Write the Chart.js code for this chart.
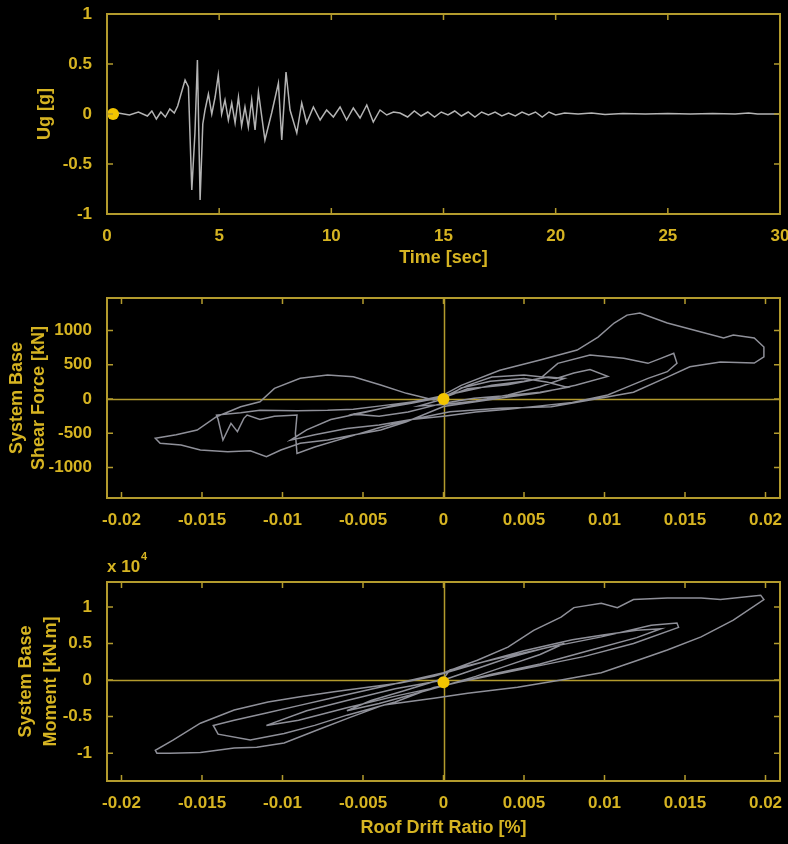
<!DOCTYPE html>
<html>
<head>
<meta charset="utf-8">
<script src="https://cdn.jsdelivr.net/npm/chart.js@4.4.1/dist/chart.umd.min.js"></script>
<style>
  html, body { margin: 0; padding: 0; background: #000; }
  #wrap { position: relative; width: 788px; height: 844px; overflow: hidden; background: #000; }
  .panel { position: absolute; left: 0; width: 788px; }
</style>
</head>
<body>
<div id="wrap">
  <div class="panel" style="top:0;height:280px"><canvas id="accChart"></canvas></div>
  <div class="panel" style="top:280px;height:260px"><canvas id="shearChart"></canvas></div>
  <div class="panel" style="top:540px;height:304px"><canvas id="momentChart"></canvas></div>
</div>
<script>
// ground motion record (time in sec, acceleration in g)
const timeSec = [0, 0.5, 1.0, 1.4, 1.8, 2.0, 2.2, 2.4, 2.6, 2.8, 3.0, 3.15, 3.3, 3.48, 3.63, 3.78, 3.92, 4.03, 4.15, 4.27,
  4.37, 4.52, 4.67, 4.82, 4.96, 5.11, 5.26, 5.41, 5.56, 5.71, 5.86, 6.0, 6.15, 6.3, 6.45, 6.6, 6.75, 7.04, 7.34, 7.64,
  7.79, 7.98, 8.16, 8.46, 8.68, 8.9, 9.2, 9.5, 9.79, 10.09, 10.39, 10.68, 10.98, 11.28, 11.58, 11.87, 12.17, 12.47, 12.77, 13.06,
  13.4, 13.7, 14.0, 14.3, 14.6, 14.9, 15.2, 15.5, 15.8, 16.1, 16.4, 16.7, 17.0, 17.3, 17.6, 17.9, 18.2, 18.5, 18.8, 19.1,
  19.4, 19.7, 20.0, 20.4, 21.0, 21.6, 22.2, 23.0, 24.0, 25.0, 26.0, 27.0, 28.0, 28.6, 29.0, 30.0];
const groundAcc = [0, 0.01, -0.01, 0.02, -0.02, 0.03, -0.05, 0.02, -0.03, 0.05, 0.01, 0.08, 0.20, 0.34, 0.27, -0.76, -0.19, 0.54, -0.86, -0.10,
  0.04, 0.20, 0.0, 0.17, 0.39, 0.0, 0.14, -0.06, 0.11, -0.09, 0.17, -0.12, 0.07, -0.13, 0.14, -0.16, 0.22, -0.26, 0.01, 0.31,
  -0.26, 0.42, 0.04, -0.19, 0.11, -0.09, 0.07, -0.06, 0.04, -0.03, 0.07, -0.06, 0.06, -0.04, 0.09, -0.08, 0.04, -0.01, 0.02, 0.01,
  -0.03, 0.03, -0.02, 0.02, -0.03, 0.02, -0.01, 0.03, -0.02, 0.02, -0.03, 0.02, -0.01, 0.02, -0.02, 0.01, -0.02, 0.02, -0.01, 0.02,
  -0.03, 0.02, -0.01, 0.01, 0.0, 0.01, -0.005, 0.005, 0.0, 0.005, 0.0, 0.005, 0.0, 0.01, 0.0, 0.0];

// base shear hysteresis (roof drift ratio, kN)
const shearDrift = [0, 0.0011, 0.0029, 0.005, 0.0064, 0.0077, 0.006, 0.004, 0.0019, 0, -0.0022, -0.004, -0.0056, -0.0039, -0.002, 0,
  0.0015, 0.003, 0.005, 0.007, 0.0081, 0.0091, 0.0102, 0.0082, 0.006, 0.004, 0.002, 0,
  -0.0023, -0.0039, -0.0056, -0.0072, -0.0089, -0.0101, -0.011, -0.012, -0.0134, -0.0151, -0.0163, -0.0176, -0.0179,
  -0.0166, -0.0153, -0.0141, -0.0126, -0.0114, -0.0105, -0.0089, -0.0072, -0.0056, -0.0039, -0.0023, -0.0006,
  0.0011, 0.0035, 0.006, 0.0083, 0.0096, 0.0106, 0.0114, 0.0122, 0.0139, 0.016, 0.0174, 0.018, 0.0193, 0.0199,
  0.0199, 0.0193, 0.0172, 0.0153, 0.0139, 0.0118, 0.0098, 0.0067, 0.0035, 0.0004,
  -0.002, -0.004, -0.006, -0.008, -0.0091, -0.0092, -0.0091, -0.0105, -0.0114, -0.0122, -0.0124, -0.0128, -0.0132, -0.0137,
  -0.014, -0.0141, -0.0126, -0.0114, -0.0091, -0.0072, -0.0056, -0.0039, -0.0022, 0,
  0.0015, 0.004, 0.006, 0.0071, 0.0091, 0.0112, 0.0127, 0.0135, 0.0143, 0.0145, 0.0139, 0.0127, 0.0112, 0.0102, 0.008, 0.006, 0.004, 0.002, 0,
  -0.002, -0.004, -0.006, -0.008, -0.0095, -0.0085, -0.007, -0.005, -0.003, -0.001, 0.001, 0.003, 0.005, 0.0065, 0.0075, 0.006, 0.004, 0.002, 0, -0.0015, 0];
const shearForce = [0, 160, 260, 300, 250, 170, 100, 50, 10, -60, -190, -250, -220, -140, -60, 30,
  200, 320, 350, 300, 380, 430, 330, 200, 90, 30, -40, -110,
  -331, -453, -526, -599, -647, -745, -842, -755, -769, -745, -672, -647, -574,
  -520, -453, -258, -112, -39, 156, 302, 350, 325, 204, 83, -15,
  200, 420, 570, 715, 905, 1110, 1225, 1255, 1110, 980, 890, 935, 890, 760,
  615, 525, 540, 470, 320, 100, 15, -112, -136, -185,
  -300, -420, -560, -700, -793, -500, -234, -250, -300, -234, -282, -477, -355, -599,
  -300, -234, -200, -165, -170, -165, -150, -100, -50, 20,
  150, 210, 300, 521, 642, 594, 521, 594, 667, 521, 399, 302, 156, 58, -50, -100, -150, -190, -250,
  -300, -380, -430, -520, -600, -450, -300, -200, -90, 0, 100, 200, 260, 320, 300, 180, 60, -30, -80, -100, 0];

// base moment hysteresis (roof drift ratio, kN.m)
const momentDrift = [0, 0.002, 0.004, 0.006, 0.0075, 0.006, 0.004, 0.002, 0, -0.002, -0.004, -0.006, -0.0045, -0.0025, 0,
  0.0004, 0.0035, 0.0066, 0.0098, 0.0129, 0.0145, 0.0146, 0.0118, 0.0087, 0.0056, 0.0025, -0.0006,
  -0.003, -0.006, -0.008, -0.0099, -0.012, -0.014, -0.0143, -0.013, -0.011, -0.009, -0.007, -0.005, -0.003, 0,
  0.0021, 0.004, 0.0056, 0.0073, 0.0081, 0.0098, 0.0108, 0.0118, 0.0139, 0.016, 0.0172, 0.0197, 0.0199,
  0.018, 0.016, 0.0139, 0.0118, 0.0098, 0.0073, 0.0046, 0.0015, -0.0006,
  -0.0037, -0.0058, -0.0078, -0.0099, -0.0116, -0.013, -0.0151, -0.017, -0.0178, -0.0179,
  -0.0168, -0.0151, -0.013, -0.0109, -0.0089, -0.0068, -0.0047, -0.0027, -0.0006,
  0.002, 0.005, 0.008, 0.01, 0.012, 0.0135, 0.012, 0.009, 0.006, 0.003, 0, -0.003, -0.006, -0.009, -0.011, -0.0085, -0.006, -0.003, 0];
const baseMoment = [0, 1500, 3000, 4200, 5000, 3500, 2000, 500, -800, -2000, -3200, -4200, -2800, -1500, 200,
  1400, 3000, 4500, 5900, 7500, 7800, 7200, 5000, 3200, 1800, 400, -1000,
  -3000, -4800, -6200, -7300, -8200, -7400, -6200, -5500, -4500, -3500, -2500, -1500, -500, 1000,
  2700, 4500, 6800, 8600, 9900, 10500, 9900, 11000, 11200, 11200, 11000, 11600, 11000,
  8200, 5900, 4100, 2500, 1000, 0, -1000, -1800, -2500,
  -3400, -5100, -6800, -8600, -9200, -9300, -9900, -10000, -10000, -9600,
  -8200, -5900, -4100, -3000, -2300, -1600, -1000, -400, 500,
  2200, 4000, 5500, 6200, 6800, 7000, 5800, 4000, 2200, 800, -800, -2200, -3800, -5500, -6200, -4200, -2800, -1200, 0];

// current-step marker
const markerTime = 0.27, markerAcc = 0;
const markerDrift = 0, markerShear = 0, markerMoment = -300;

// axes
const timeTicks = [0, 5, 10, 15, 20, 25, 30];
const timeLabels = ['0', '5', '10', '15', '20', '25', '30'];
const accTicks = [-1, -0.5, 0, 0.5, 1];
const accLabels = ['-1', '-0.5', '0', '0.5', '1'];
const driftTicks = [-0.02, -0.015, -0.01, -0.005, 0, 0.005, 0.01, 0.015, 0.02];
const driftLabels = ['-0.02', '-0.015', '-0.01', '-0.005', '0', '0.005', '0.01', '0.015', '0.02'];
const shearTicks = [-1000, -500, 0, 500, 1000];
const shearLabels = ['-1000', '-500', '0', '500', '1000'];
const momentTicks = [-10000, -5000, 0, 5000, 10000];
const momentLabels = ['-1', '-0.5', '0', '0.5', '1'];

const FAMILY = "'Liberation Sans', Arial, sans-serif";
const GOLD = '#b39b2d';
const TEXT = '#d6b422';
const DOT = '#f2c400';

const pts = (xs, ys) => xs.map((v, i) => ({ x: v, y: ys[i] }));

// frame, inner tick marks, zero lines and exponent note
const framePlugin = {
  id: 'frame',
  beforeDatasetsDraw(chart, args, opts) {
    if (!opts.zeroLines) return;
    const { ctx, chartArea: a, scales: { x, y } } = chart;
    ctx.save();
    ctx.strokeStyle = GOLD;
    ctx.lineWidth = 1.5;
    ctx.beginPath();
    const x0 = Math.round(x.getPixelForValue(0)) + 0.5;
    const y0 = Math.round(y.getPixelForValue(0)) + 0.5;
    ctx.moveTo(x0, a.top); ctx.lineTo(x0, a.bottom);
    ctx.moveTo(a.left, y0); ctx.lineTo(a.right, y0);
    ctx.stroke();
    ctx.restore();
  },
  afterDatasetsDraw(chart, args, opts) {
    const { ctx, chartArea: a, scales: { x, y } } = chart;
    ctx.save();
    ctx.strokeStyle = GOLD;
    ctx.lineWidth = 2;
    ctx.strokeRect(a.left, a.top, a.right - a.left, a.bottom - a.top);
    ctx.lineWidth = 1.5;
    ctx.beginPath();
    x.ticks.forEach(t => {
      const px = x.getPixelForValue(t.value);
      ctx.moveTo(px, a.bottom); ctx.lineTo(px, a.bottom - 6);
      ctx.moveTo(px, a.top); ctx.lineTo(px, a.top + 6);
    });
    y.ticks.forEach(t => {
      const py = y.getPixelForValue(t.value);
      ctx.moveTo(a.left, py); ctx.lineTo(a.left + 6, py);
      ctx.moveTo(a.right, py); ctx.lineTo(a.right - 6, py);
    });
    ctx.stroke();
    if (opts.exponent) {
      ctx.fillStyle = TEXT;
      ctx.font = 'bold 17px ' + FAMILY;
      ctx.textBaseline = 'alphabetic';
      ctx.fillText('x 10', a.left, a.top - 10);
      const w = ctx.measureText('x 10').width;
      ctx.font = 'bold 11px ' + FAMILY;
      ctx.fillText(opts.exponent, a.left + w + 1, a.top - 22);
    }
    ctx.restore();
  }
};

function makePanel(id, cfg) {
  const tickFont = { family: FAMILY, size: 17, weight: 'bold' };
  return new Chart(document.getElementById(id), {
    type: 'scatter',
    data: { datasets: cfg.datasets },
    options: {
      responsive: true,
      maintainAspectRatio: false,
      animation: false,
      events: [],
      layout: { padding: { left: 0, right: 8, top: cfg.top, bottom: 0 } },
      plugins: {
        legend: { display: false },
        tooltip: { enabled: false },
        frame: { zeroLines: cfg.zeroLines, exponent: cfg.exponent }
      },
      scales: {
        x: {
          type: 'linear', min: cfg.xMin, max: cfg.xMax,
          grid: { display: false }, border: { display: false },
          afterBuildTicks: s => { s.ticks = cfg.xTicks.map(v => ({ value: v })); },
          ticks: { color: TEXT, font: tickFont, padding: 4, maxRotation: 0, autoSkip: false,
            callback: (v, i) => cfg.xLabels[i] },
          title: { display: !!cfg.xTitle, text: cfg.xTitle, color: TEXT,
            font: { family: FAMILY, size: 18, weight: 'bold' },
            padding: { top: 0, bottom: cfg.xTitlePad } },
          afterFit: s => { s.height = cfg.xHeight; s.paddingLeft = 0; s.paddingRight = 0; }
        },
        y: {
          type: 'linear', min: cfg.yMin, max: cfg.yMax,
          grid: { display: false }, border: { display: false },
          afterBuildTicks: s => { s.ticks = cfg.yTicks.map(v => ({ value: v })); },
          ticks: { color: TEXT, font: tickFont, padding: 7, autoSkip: false,
            callback: (v, i) => cfg.yLabels[i] },
          title: { display: true, text: cfg.yTitle, color: TEXT,
            font: { family: FAMILY, size: 18, weight: 'bold', lineHeight: cfg.yTitleLH },
            padding: { top: cfg.yTitlePad, bottom: 0 } },
          afterFit: s => { s.width = 107; s.paddingTop = 0; s.paddingBottom = 0; }
        }
      }
    },
    plugins: [framePlugin]
  });
}

const curveStyle = (color) => ({ showLine: true, borderColor: color, borderWidth: 1.5, pointRadius: 0, tension: 0, order: 2 });
const dotStyle = { pointRadius: 6, pointBackgroundColor: DOT, pointBorderColor: DOT, pointBorderWidth: 0, order: 1 };

makePanel('accChart', {
  top: 14, xHeight: 66, xMin: 0, xMax: 30, yMin: -1, yMax: 1,
  xTicks: timeTicks, xLabels: timeLabels, yTicks: accTicks, yLabels: accLabels,
  xTitle: 'Time [sec]', xTitlePad: 11, yTitle: 'Ug [g]', yTitleLH: 1.2, yTitlePad: 34,
  datasets: [
    { data: pts(timeSec, groundAcc), ...curveStyle('#b4b4b4') },
    { data: [{ x: markerTime, y: markerAcc }], ...dotStyle }
  ]
});

makePanel('shearChart', {
  top: 18, xHeight: 42, xMin: -0.0209, xMax: 0.0209, yMin: -1445, yMax: 1475,
  xTicks: driftTicks, xLabels: driftLabels, yTicks: shearTicks, yLabels: shearLabels,
  xTitle: '', xTitlePad: 0, yTitle: ['System Base', 'Shear Force [kN]'], yTitleLH: 1.22, yTitlePad: 6,
  zeroLines: true,
  datasets: [
    { data: pts(shearDrift, shearForce), ...curveStyle('#8f9099') },
    { data: [{ x: markerDrift, y: markerShear }], ...dotStyle }
  ]
});

makePanel('momentChart', {
  top: 42, xHeight: 63, xMin: -0.0209, xMax: 0.0209, yMin: -13800, yMax: 13400,
  xTicks: driftTicks, xLabels: driftLabels, yTicks: momentTicks, yLabels: momentLabels,
  xTitle: 'Roof Drift Ratio [%]', xTitlePad: 5, yTitle: ['System Base', 'Moment [kN.m]'], yTitleLH: 1.39, yTitlePad: 14,
  zeroLines: true, exponent: '4',
  datasets: [
    { data: pts(momentDrift, baseMoment), ...curveStyle('#8f9099') },
    { data: [{ x: markerDrift, y: markerMoment }], ...dotStyle }
  ]
});
</script>
</body>
</html>
